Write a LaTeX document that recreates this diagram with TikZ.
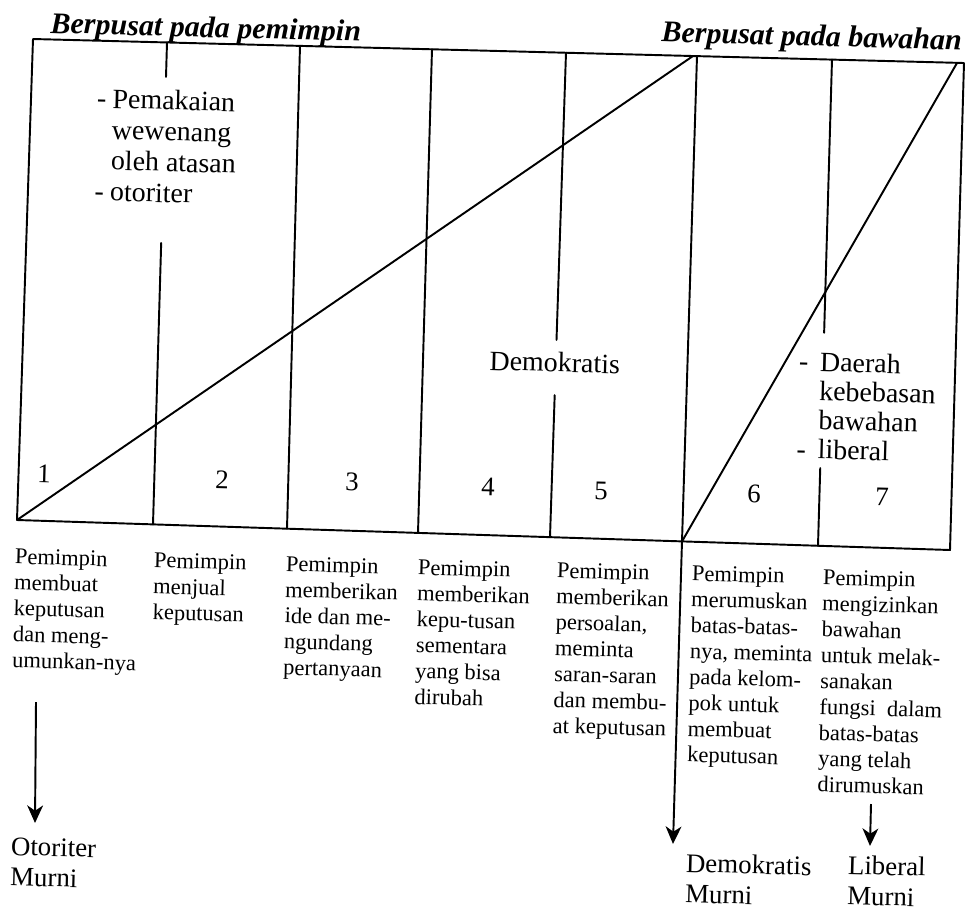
\documentclass[tikz,border=0pt]{standalone}
\usepackage{fontspec}
\setmainfont{Liberation Serif}
\usetikzlibrary{calc,arrows.meta}
\begin{document}
\begin{tikzpicture}[x=0.02cm,y=-0.02cm,
  frame/.style={line width=1.1pt, line cap=round, line join=round},
  arr/.style={line width=1.1pt, -{Stealth[length=10pt,width=9pt,inset=3pt]}},
  toptext/.style={inner sep=0pt, anchor=north west, align=left, rotate=-1.55,
    font=\fontsize{15.9}{17.6}\selectfont},
  head/.style={inner sep=0pt, rotate=-1.55,
    font=\fontsize{17.1}{19}\selectfont\bfseries\itshape},
  num/.style={inner sep=0pt, rotate=-1.55, font=\fontsize{15.3}{17}\selectfont},
  desc/.style={inner sep=0pt, anchor=north west, align=left, rotate=-1.55,
    font=\fontsize{12.8}{14.74}\selectfont},
  result/.style={inner sep=0pt, anchor=north west, align=left, rotate=-1.55,
    font=\fontsize{15.3}{17.4}\selectfont}]
\useasboundingbox (0,0) rectangle (968,914);

% corners of the frame and feet of the dividers
\coordinate (t0) at (33,39);   \coordinate (b0) at (17,520);
\coordinate (t1) at (167,42.5);\coordinate (b1) at (153,524.4);
\coordinate (t2) at (300,45.9);\coordinate (b2) at (287,528.7);
\coordinate (t3) at (432,49.3);\coordinate (b3) at (418,532.9);
\coordinate (t4) at (566,52.7);\coordinate (b4) at (550,537.1);
\coordinate (t5) at (697,56.1);\coordinate (b5) at (682,541.4);
\coordinate (t6) at (832,59.6);\coordinate (b6) at (818,545.8);
\coordinate (t7) at (964,63);  \coordinate (b7) at (950,550);
\coordinate (p1) at (693,56);
\coordinate (p2) at (957,63);

% frame
\draw[frame] (t0) -- (t7) -- (b7) -- (b0) -- cycle;

% dividers
\draw[frame] (t1) -- ($(t1)!0.0716!(b1)$);
\draw[frame] ($(t1)!0.416!(b1)$) -- (b1);
\draw[frame] (t2) -- (b2);
\draw[frame] (t3) -- (b3);
\draw[frame] (t4) -- ($(t4)!0.593!(b4)$);
\draw[frame] ($(t4)!0.707!(b4)$) -- (b4);
\draw[frame] (t5) -- (b5);
\draw[frame] (t6) -- ($(t6)!0.562!(b6)$);
\draw[frame] ($(t6)!0.840!(b6)$) -- (b6);

% diagonals
\draw[frame] (b0) -- (p1);
\draw[frame] (b5) -- (p2);

% headings
\node[head, anchor=base west] (hleft) at (50,33) {Berpusat pada pemimpin};
\node[head, anchor=base east] (hright) at (962,50) {Berpusat pada bawahan};

% texts inside the frame
\node[toptext] (auth) at (97,88)
  {\makebox[8.9pt][l]{-}Pemakaian\\\hspace*{8.9pt}wewenang\\\hspace*{8.9pt}oleh atasan\\\makebox[8.9pt][l]{-}otoriter};
\node[toptext, anchor=base west] (demo) at (489,370) {Demokratis};
\node[toptext, font=\fontsize{15.9}{16.6}\selectfont] (free) at (799,351)
  {\makebox[12pt][l]{-}Daerah\\\hspace*{12pt}kebebasan\\\hspace*{12pt}bawahan\\\makebox[12pt][l]{-}liberal};

% column numbers
\node[num] (n1) at (44,474) {1};
\node[num] (n2) at (222,480) {2};
\node[num] (n3) at (352,482) {3};
\node[num] (n4) at (488,487) {4};
\node[num] (n5) at (601,491) {5};
\node[num] (n6) at (754,494) {6};
\node[num] (n7) at (882,497) {7};

% descriptions below the columns
\node[desc] (c1) at (15,548.6) {Pemimpin\\membuat\\keputusan\\dan meng-\\umunkan-nya};
\node[desc] (c2) at (154,552.4) {Pemimpin\\menjual\\keputusan};
\node[desc] (c3) at (286,555.9) {Pemimpin\\memberikan\\ide dan me-\\ngundang\\pertanyaan};
\node[desc] (c4) at (418,559.5) {Pemimpin\\memberikan\\kepu-tusan\\sementara\\yang bisa\\dirubah};
\node[desc] (c5) at (557,562.5) {Pemimpin\\memberikan\\persoalan,\\meminta\\saran-saran\\dan membu-\\at keputusan};
\node[desc] (c6) at (692,565.5) {Pemimpin\\merumuskan\\batas-batas-\\nya, meminta\\pada kelom-\\pok untuk\\membuat\\keputusan};
\node[desc] (c7) at (823,569.5) {Pemimpin\\mengizinkan\\bawahan\\untuk melak-\\sanakan\\fungsi\ \ dalam\\batas-batas\\yang telah\\dirumuskan};

% outcomes
\node[result] (r1) at (11,837) {Otoriter\\Murni};
\node[result] (r2) at (686,853) {Demokratis\\Murni};
\node[result] (r3) at (848,855) {Liberal\\Murni};

% arrows to the outcomes
\coordinate (a1s) at (36,702);  \coordinate (a1e) at (35,823);
\coordinate (a2e) at (673,844);
\coordinate (a3s) at (871,804); \coordinate (a3e) at (870,846);
\draw[arr] (a1s) -- (a1e);
\draw[arr] (b5) -- (a2e);
\draw[arr] (a3s) -- (a3e);
\end{tikzpicture}
\end{document}
